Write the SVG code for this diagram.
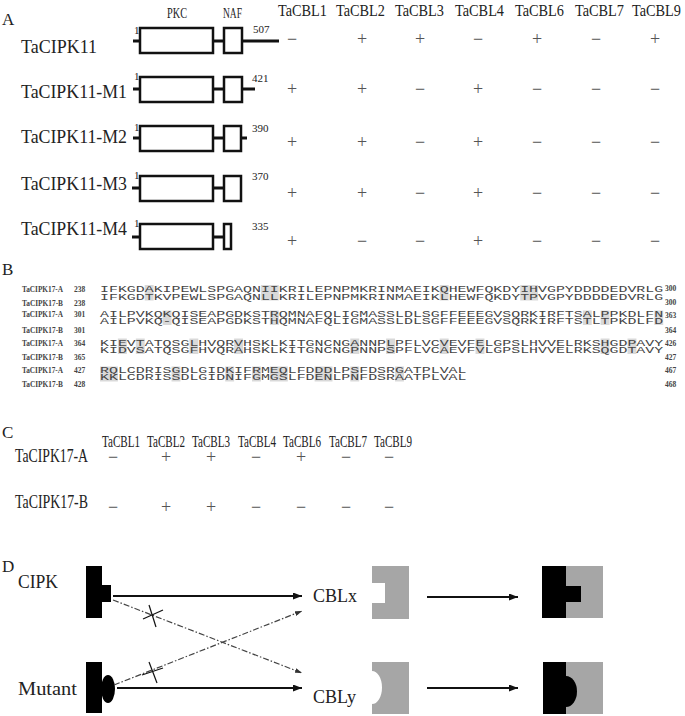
<svg xmlns="http://www.w3.org/2000/svg" width="685" height="716" viewBox="0 0 685 716">
<defs>
<style>
.pl{font-family:"Liberation Serif",serif;font-size:17px;fill:#222}
.lb{font-family:"Liberation Serif",serif;fill:#222}
.sg{font-family:"Liberation Serif",serif;font-size:18px;fill:#555;text-anchor:middle}
.sm{font-family:"Liberation Serif",serif;font-size:11px;fill:#222}
.seq{font-family:"Liberation Mono",monospace;font-size:9px;fill:#444}
.sl{font-family:"Liberation Serif",serif;font-size:7.5px;font-weight:bold;fill:#444}
.hl{fill:#d9d9d9}
.bx{fill:#fff;stroke:#111;stroke-width:2.5}
.ln{stroke:#111;stroke-width:3;fill:none}
.ar{stroke:#111;stroke-width:2;fill:none}
.dd{stroke:#444;stroke-width:1.2;fill:none;stroke-dasharray:6 2 1.5 2}
.cx{stroke:#111;stroke-width:1.2}
.blk{fill:#000}
.gry{fill:#a6a6a6}
</style>
<marker id="ah" markerWidth="9" markerHeight="7" refX="9" refY="3.5" orient="auto" markerUnits="userSpaceOnUse"><path d="M0,0 L9,3.5 L0,7 z" fill="#111"/></marker>
<marker id="ahs" markerWidth="7" markerHeight="5" refX="7" refY="2.5" orient="auto" markerUnits="userSpaceOnUse"><path d="M0,0 L7,2.5 L0,5 z" fill="#333"/></marker>
</defs>
<rect width="685" height="716" fill="#fff"/>

<!-- Panel A -->
<g id="panelA">
<text class="pl" x="2" y="25">A</text>
<text class="lb" x="167" y="18" font-size="15" textLength="20" lengthAdjust="spacingAndGlyphs">PKC</text>
<text class="lb" x="223" y="18" font-size="15" textLength="19" lengthAdjust="spacingAndGlyphs">NAF</text>
<g id="headerA" class="lb" font-size="14.5" transform="matrix(1,0,0,1.2,0,15.5)">
<text x="278" y="0" textLength="49" lengthAdjust="spacingAndGlyphs">TaCBL1</text>
<text x="336" y="0" textLength="49" lengthAdjust="spacingAndGlyphs">TaCBL2</text>
<text x="395" y="0" textLength="49" lengthAdjust="spacingAndGlyphs">TaCBL3</text>
<text x="455" y="0" textLength="49" lengthAdjust="spacingAndGlyphs">TaCBL4</text>
<text x="515" y="0" textLength="49" lengthAdjust="spacingAndGlyphs">TaCBL6</text>
<text x="575" y="0" textLength="49" lengthAdjust="spacingAndGlyphs">TaCBL7</text>
<text x="632" y="0" textLength="49" lengthAdjust="spacingAndGlyphs">TaCBL9</text>
</g>
<g id="TaCIPK11">
<text class="lb" x="21" y="53" font-size="19" textLength="76" lengthAdjust="spacingAndGlyphs">TaCIPK11</text>
<line class="ln" x1="133" y1="41" x2="279" y2="41"/>
<rect class="bx" x="140" y="28" width="73" height="25"/>
<rect class="bx" x="224" y="28" width="18" height="25"/>
<text class="sm" x="134" y="34" font-size="10">1</text>
<text class="sm" x="253" y="33">507</text>
<text class="sg" y="45"><tspan x="292">−</tspan><tspan x="362">+</tspan><tspan x="420">+</tspan><tspan x="478">−</tspan><tspan x="537">+</tspan><tspan x="596">−</tspan><tspan x="655">+</tspan></text>
</g>
<g id="TaCIPK11-M1">
<text class="lb" x="21" y="98" font-size="19" textLength="106" lengthAdjust="spacingAndGlyphs">TaCIPK11-M1</text>
<line class="ln" x1="133" y1="89" x2="255" y2="89"/>
<rect class="bx" x="140" y="77" width="73" height="25"/>
<rect class="bx" x="224" y="77" width="18" height="25"/>
<text class="sm" x="134" y="80" font-size="10">1</text>
<text class="sm" x="252" y="82">421</text>
<text class="sg" y="95"><tspan x="292">+</tspan><tspan x="362">+</tspan><tspan x="420">−</tspan><tspan x="478">+</tspan><tspan x="537">−</tspan><tspan x="596">−</tspan><tspan x="655">−</tspan></text>
</g>
<g id="TaCIPK11-M2">
<text class="lb" x="21" y="143" font-size="19" textLength="106" lengthAdjust="spacingAndGlyphs">TaCIPK11-M2</text>
<line class="ln" x1="133" y1="138" x2="247" y2="138"/>
<rect class="bx" x="140" y="126" width="73" height="25"/>
<rect class="bx" x="224" y="126" width="17" height="25"/>
<text class="sm" x="134" y="131" font-size="10">1</text>
<text class="sm" x="252" y="132">390</text>
<text class="sg" y="148"><tspan x="292">+</tspan><tspan x="362">+</tspan><tspan x="420">−</tspan><tspan x="478">+</tspan><tspan x="537">−</tspan><tspan x="596">−</tspan><tspan x="655">−</tspan></text>
</g>
<g id="TaCIPK11-M3">
<text class="lb" x="21" y="190" font-size="19" textLength="106" lengthAdjust="spacingAndGlyphs">TaCIPK11-M3</text>
<line class="ln" x1="132" y1="188" x2="224" y2="188"/>
<rect class="bx" x="140" y="176" width="73" height="25"/>
<rect class="bx" x="224" y="176" width="17" height="25"/>
<text class="sm" x="134" y="179" font-size="10">1</text>
<text class="sm" x="252" y="180">370</text>
<text class="sg" y="199"><tspan x="292">+</tspan><tspan x="362">+</tspan><tspan x="420">−</tspan><tspan x="478">+</tspan><tspan x="537">−</tspan><tspan x="596">−</tspan><tspan x="655">−</tspan></text>
</g>
<g id="TaCIPK11-M4">
<text class="lb" x="21" y="235" font-size="19" textLength="106" lengthAdjust="spacingAndGlyphs">TaCIPK11-M4</text>
<line class="ln" x1="132" y1="237" x2="224" y2="237"/>
<rect class="bx" x="140" y="224" width="73" height="25"/>
<rect class="bx" x="224" y="224" width="7" height="25"/>
<text class="sm" x="134" y="227" font-size="10">1</text>
<text class="sm" x="252" y="230">335</text>
<text class="sg" y="247"><tspan x="292">+</tspan><tspan x="362">−</tspan><tspan x="420">−</tspan><tspan x="478">+</tspan><tspan x="537">−</tspan><tspan x="596">−</tspan><tspan x="655">−</tspan></text>
</g>
</g>

<!-- Panel B -->
<g id="panelB">
<text class="pl" x="2" y="275">B</text>
<g id="highlights">
<rect class="hl" x="144.7" y="285" width="8.94" height="15.5"/>
<rect class="hl" x="260.9" y="285" width="17.9" height="15.5"/>
<rect class="hl" x="439.7" y="285" width="8.94" height="15.5"/>
<rect class="hl" x="520.2" y="285" width="17.9" height="15.5"/>
<rect class="hl" x="162.6" y="310.5" width="8.94" height="14.5"/>
<rect class="hl" x="269.9" y="310.5" width="8.94" height="14.5"/>
<rect class="hl" x="582.8" y="310.5" width="8.94" height="14.5"/>
<rect class="hl" x="600.6" y="310.5" width="8.94" height="14.5"/>
<rect class="hl" x="654.3" y="310.5" width="8.94" height="14.5"/>
<rect class="hl" x="117.9" y="338.5" width="8.94" height="15.5"/>
<rect class="hl" x="135.8" y="338.5" width="8.94" height="15.5"/>
<rect class="hl" x="189.4" y="338.5" width="8.94" height="15.5"/>
<rect class="hl" x="234.1" y="338.5" width="8.94" height="15.5"/>
<rect class="hl" x="350.3" y="338.5" width="8.94" height="15.5"/>
<rect class="hl" x="386.1" y="338.5" width="8.94" height="15.5"/>
<rect class="hl" x="439.7" y="338.5" width="8.94" height="15.5"/>
<rect class="hl" x="475.5" y="338.5" width="8.94" height="15.5"/>
<rect class="hl" x="600.6" y="338.5" width="8.94" height="15.5"/>
<rect class="hl" x="627.5" y="338.5" width="8.94" height="15.5"/>
<rect class="hl" x="100" y="366.5" width="17.9" height="15"/>
<rect class="hl" x="171.5" y="366.5" width="8.94" height="15"/>
<rect class="hl" x="225.2" y="366.5" width="8.94" height="15"/>
<rect class="hl" x="252.0" y="366.5" width="8.94" height="15"/>
<rect class="hl" x="269.9" y="366.5" width="17.9" height="15"/>
<rect class="hl" x="314.6" y="366.5" width="17.9" height="15"/>
<rect class="hl" x="350.3" y="366.5" width="8.94" height="15"/>
<rect class="hl" x="395.0" y="366.5" width="8.94" height="15"/>
</g>
<g id="seqlabels" class="sl">
<text x="22" y="291.7" textLength="41" lengthAdjust="spacingAndGlyphs">TaCIPK17-A</text>
<text x="22" y="306" textLength="41" lengthAdjust="spacingAndGlyphs">TaCIPK17-B</text>
<text x="22" y="317" textLength="41" lengthAdjust="spacingAndGlyphs">TaCIPK17-A</text>
<text x="22" y="333" textLength="41" lengthAdjust="spacingAndGlyphs">TaCIPK17-B</text>
<text x="22" y="346" textLength="41" lengthAdjust="spacingAndGlyphs">TaCIPK17-A</text>
<text x="22" y="360" textLength="41" lengthAdjust="spacingAndGlyphs">TaCIPK17-B</text>
<text x="22" y="373" textLength="41" lengthAdjust="spacingAndGlyphs">TaCIPK17-A</text>
<text x="22" y="387" textLength="41" lengthAdjust="spacingAndGlyphs">TaCIPK17-B</text>
<text x="74" y="291.7">238</text>
<text x="74" y="306">238</text>
<text x="74" y="317">301</text>
<text x="74" y="333">301</text>
<text x="74" y="346">364</text>
<text x="74" y="360">365</text>
<text x="74" y="373">427</text>
<text x="74" y="387">428</text>
<text x="665" y="291">300</text>
<text x="665" y="305">300</text>
<text x="665" y="318">363</text>
<text x="665" y="333">364</text>
<text x="665" y="346">426</text>
<text x="665" y="360">427</text>
<text x="665" y="373">467</text>
<text x="665" y="387">468</text>
</g>
<g id="sequences" class="seq">
<text x="100" y="292.3" textLength="563.2" lengthAdjust="spacingAndGlyphs">IFKGDAKIPEWLSPGAQNIIKRILEPNPMKRINMAEIKQHEWFQKDYIHVGPYDDDDEDVRLG</text>
<text x="100" y="299.5" textLength="563.2" lengthAdjust="spacingAndGlyphs">IFKGDTKVPEWLSPGAQNLLKRILEPNPMKRINMAEIKLHEWFQKDYTPVGPYDDDDEDVRLG</text>
<text x="100" y="317.3" textLength="563.2" lengthAdjust="spacingAndGlyphs">AILPVKQKQISEAPGDKSTRQMNAFQLIGMASSLDLSGFFEEEGVSQRKIRFTSALPPKDLFN</text>
<text x="100" y="324" textLength="563.2" lengthAdjust="spacingAndGlyphs">AILPVKQ-QISEAPGDKSTHQMNAFQLIGMASSLDLSGFFEEEGVSQRKIRFTSTLTPKDLFD</text>
<text x="100" y="345.5" textLength="563.2" lengthAdjust="spacingAndGlyphs">KIEVTATQSGLHVQRVHSKLKITGNCNGANNPLPFLVCVEVFELGPSLHVVELRKSHGDPAVY</text>
<text x="100" y="352.9" textLength="563.2" lengthAdjust="spacingAndGlyphs">KIDVSATQSGFHVQRAHSKLKITGNCNGPNNPSPFLVCAEVFVLGPSLHVVELRKSQGDTAVY</text>
<text x="100" y="373.3" textLength="366.5" lengthAdjust="spacingAndGlyphs">RQLCDRISGDLGIDKIFRMEQLFDDDLPSFDSRGATPLVAL</text>
<text x="100" y="380.3" textLength="366.5" lengthAdjust="spacingAndGlyphs">KKLCDRISSDLGIDNIFGMGSLFDENLPNFDSRAATPLVAL</text>
</g>
</g>

<!-- Panel C -->
<g id="panelC">
<text class="pl" x="2" y="438">C</text>
<g id="headerC" class="lb" font-size="16">
<text x="102" y="447" textLength="38" lengthAdjust="spacingAndGlyphs">TaCBL1</text>
<text x="147" y="447" textLength="38" lengthAdjust="spacingAndGlyphs">TaCBL2</text>
<text x="192" y="447" textLength="38" lengthAdjust="spacingAndGlyphs">TaCBL3</text>
<text x="238" y="447" textLength="38" lengthAdjust="spacingAndGlyphs">TaCBL4</text>
<text x="283" y="447" textLength="38" lengthAdjust="spacingAndGlyphs">TaCBL6</text>
<text x="329" y="447" textLength="38" lengthAdjust="spacingAndGlyphs">TaCBL7</text>
<text x="374" y="447" textLength="38" lengthAdjust="spacingAndGlyphs">TaCBL9</text>
</g>
<g id="TaCIPK17-A">
<text class="lb" x="15" y="462" font-size="18" textLength="73" lengthAdjust="spacingAndGlyphs">TaCIPK17-A</text>
<text class="sg" y="463" font-size="16"><tspan x="113">−</tspan><tspan x="166">+</tspan><tspan x="211">+</tspan><tspan x="256">−</tspan><tspan x="301">+</tspan><tspan x="346">−</tspan><tspan x="389">−</tspan></text>
</g>
<g id="TaCIPK17-B">
<text class="lb" x="15" y="508" font-size="18" textLength="73" lengthAdjust="spacingAndGlyphs">TaCIPK17-B</text>
<text class="sg" y="513" font-size="16"><tspan x="113">−</tspan><tspan x="166">+</tspan><tspan x="211">+</tspan><tspan x="256">−</tspan><tspan x="301">−</tspan><tspan x="346">−</tspan><tspan x="389">−</tspan></text>
</g>
</g>

<!-- Panel D -->
<g id="panelD">
<text class="pl" x="2" y="572">D</text>
<g id="CIPK">
<text class="lb" x="18" y="588" font-size="18" textLength="40" lengthAdjust="spacingAndGlyphs">CIPK</text>
<rect class="blk" x="86" y="566" width="16" height="52"/>
<rect class="blk" x="102" y="585" width="9" height="17"/>
</g>
<g id="Mutant">
<text class="lb" x="18" y="695" font-size="18" textLength="59" lengthAdjust="spacingAndGlyphs">Mutant</text>
<ellipse class="blk" cx="108" cy="689" rx="7" ry="14"/>
<rect class="blk" x="86" y="662" width="16" height="51"/>
</g>
<g id="CBLx">
<text class="lb" x="313" y="602" font-size="18">CBLx</text>
<path class="gry" d="M372,566 H409 V619 H372 V603 H385 V583 H372 Z"/>
</g>
<g id="CBLy">
<text class="lb" x="313" y="703" font-size="18">CBLy</text>
<path class="gry" d="M372,662 H409 V714 H372 V704 A10,16.5 0 0 0 372,671 Z"/>
</g>
<g id="complexX">
<rect class="blk" x="542" y="566" width="24" height="52"/>
<rect class="gry" x="566" y="566" width="37" height="52"/>
<rect class="blk" x="566" y="586" width="15" height="16"/>
</g>
<g id="complexY">
<rect class="blk" x="543" y="662" width="23" height="52"/>
<rect class="gry" x="566" y="662" width="37" height="52"/>
<path class="blk" d="M566,676 A11,15.5 0 0 1 566,707 Z"/>
</g>
<g id="connectors">
<line class="ar" x1="113" y1="596" x2="302" y2="596" marker-end="url(#ah)"/>
<line class="ar" x1="117" y1="688" x2="302" y2="688" marker-end="url(#ah)"/>
<line class="dd" x1="113" y1="600" x2="302" y2="673" marker-end="url(#ahs)"/>
<line class="dd" x1="114" y1="685" x2="302" y2="611" marker-end="url(#ahs)"/>
<line class="cx" x1="149" y1="605" x2="156" y2="627"/>
<line class="cx" x1="143" y1="619" x2="163" y2="610"/>
<line class="cx" x1="149" y1="662" x2="157" y2="683"/>
<line class="cx" x1="142" y1="675" x2="163" y2="668"/>
<line class="ar" x1="427" y1="597" x2="518" y2="597" marker-end="url(#ah)"/>
<line class="ar" x1="427" y1="688" x2="518" y2="688" marker-end="url(#ah)"/>
</g>
</g>
</svg>
